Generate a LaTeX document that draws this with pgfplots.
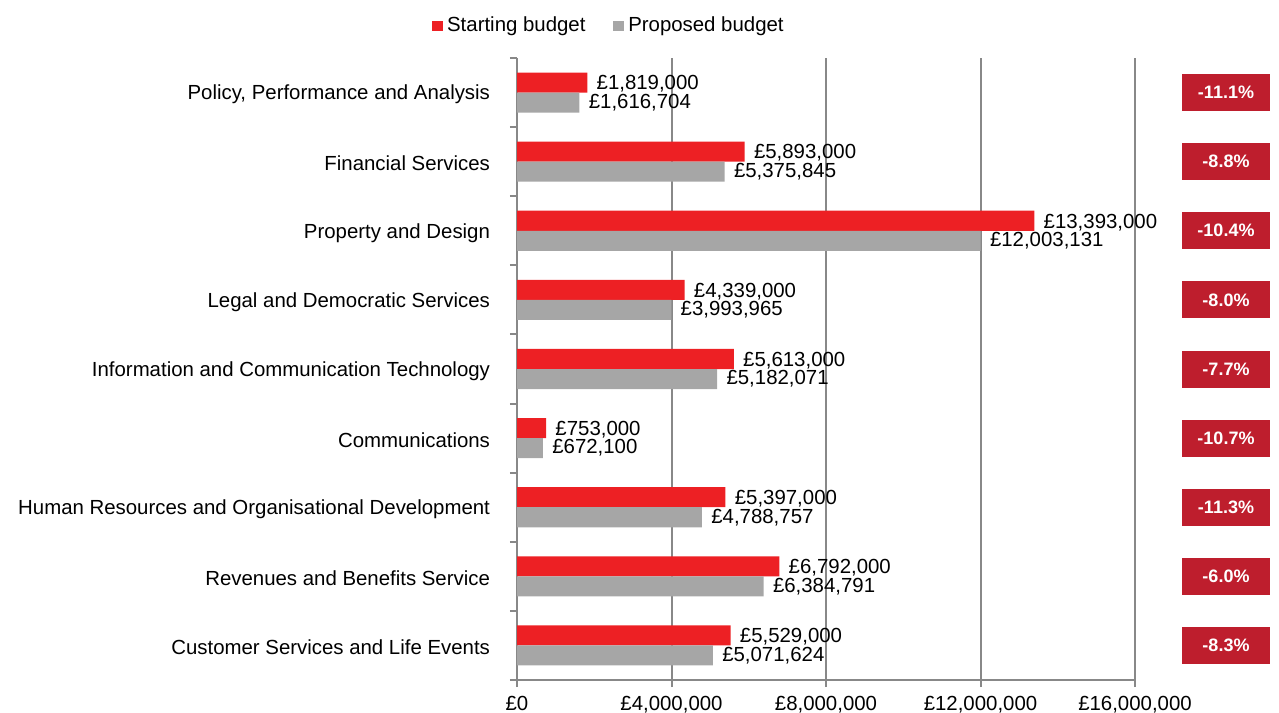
\documentclass[border=0pt]{standalone}
\usepackage{fontspec}
\setmainfont{Liberation Sans}
\usepackage{pgfplots}
\usepackage{pgfplotstable}
\pgfplotsset{compat=1.18}

\definecolor{startred}{HTML}{ED2024}
\definecolor{propgray}{HTML}{A6A6A6}
\definecolor{pctred}{HTML}{BE1E2D}
\definecolor{gridgray}{HTML}{888888}

% budgets per service, top to bottom
\pgfplotstableread{
y start proposed slabel plabel pct boxx
0 1819000 1616704 £1,819,000 £1,616,704 -11.1 18356000
1 5893000 5375845 £5,893,000 £5,375,845 -8.8 18356000
2 13393000 12003131 £13,393,000 £12,003,131 -10.4 18356000
3 4339000 3993965 £4,339,000 £3,993,965 -8.0 18356000
4 5613000 5182071 £5,613,000 £5,182,071 -7.7 18356000
5 753000 672100 £753,000 £672,100 -10.7 18356000
6 5397000 4788757 £5,397,000 £4,788,757 -11.3 18356000
7 6792000 6384791 £6,792,000 £6,384,791 -6.0 18356000
8 5529000 5071624 £5,529,000 £5,071,624 -8.3 18356000
}\budgets

\begin{document}
\begin{tikzpicture}
\path[use as bounding box] (0,0) rectangle (639.5bp,356.5bp);
\begin{axis}[
  at={(258.5bp,16.5bp)}, anchor=south west,
  scale only axis, width=309bp, height=311bp,
  xmin=0, xmax=16000000, ymin=-0.5, ymax=8.5, y dir=reverse,
  clip=false,
  axis x line*=bottom, axis y line*=left,
  axis line style={gridgray, line width=1bp, -},
  every tick/.style={gridgray, line width=1bp},
  tick align=outside,
  major tick length=3.5bp,
  scaled x ticks=false,
  xtick={0,4000000,8000000,12000000,16000000},
  xticklabels={£0,{£4,000,000},{£8,000,000},{£12,000,000},{£16,000,000}},
  xticklabel style={yshift=-1bp},
  xmajorgrids=true,
  grid style={gridgray, line width=1bp},
  ytick={-0.5,0.5,...,8.5},
  yticklabels={},
  extra y ticks={0,1,2,3,4,5,6,7,8},
  extra y tick labels={{Policy, Performance and Analysis},{Financial Services},{Property and Design},{Legal and Democratic Services},{Information and Communication Technology},{Communications},{Human Resources and Organisational Development},{Revenues and Benefits Service},{Customer Services and Life Events}},
  extra y tick style={major tick length=0pt, yticklabel style={xshift=-10bp, yshift=-1bp}},
  tick label style={font=\fontsize{10.2bp}{12bp}\selectfont},
  legend style={at={(axis description cs:0.1505,1)}, anchor=center, yshift=16bp,
    draw=none, font=\fontsize{10.2bp}{12bp}\selectfont,
    /tikz/every even column/.append style={column sep=12bp}},
  legend columns=2,
  legend image code/.code={\fill[#1] (0bp,-2.7bp) rectangle (5.4bp,2.7bp);},
  nodes near coords style={font=\fontsize{10.2bp}{12bp}\selectfont, text=black},
]
\addplot[xbar, bar width=0.29, bar shift=-0.145, fill=startred, draw=none,
  point meta=explicit symbolic, nodes near coords,
  nodes near coords style={anchor=west, inner sep=2bp, xshift=2.5bp, yshift=4.3bp}]
  table[x=start, y=y, meta=slabel]{\budgets};
\addlegendentry{Starting budget}
\addplot[xbar, bar width=0.29, bar shift=0.145, fill=propgray, draw=none,
  point meta=explicit symbolic, nodes near coords,
  nodes near coords style={anchor=west, inner sep=2bp, xshift=2.5bp, yshift=-5bp}]
  table[x=proposed, y=y, meta=plabel]{\budgets};
\addlegendentry{Proposed budget}
\addplot[forget plot, only marks, mark=*, mark options={draw=none, fill=none},
  point meta=explicit symbolic, nodes near coords={\pgfplotspointmeta\%},
  nodes near coords style={anchor=center, fill=pctred, text=white,
    font=\fontsize{9bp}{11bp}\selectfont\bfseries,
    minimum width=44bp, minimum height=18.5bp, inner sep=0pt}]
  table[x=boxx, y=y, meta=pct]{\budgets};
\end{axis}
\end{tikzpicture}
\end{document}
